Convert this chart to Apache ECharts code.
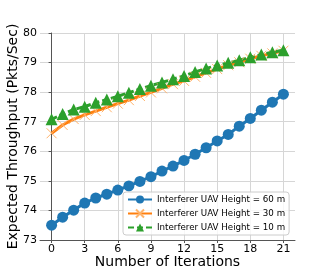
<!DOCTYPE html>
<html>
<head>
<meta charset="utf-8">
<script src="https://cdn.jsdelivr.net/npm/echarts@6/dist/echarts.min.js"></script>
<style>html,body{margin:0;padding:0;background:#fff}#c{width:327px;height:270px}</style>
</head>
<body>
<div id="c"></div>
<script>
const iterations = [0,1,2,3,4,5,6,7,8,9,10,11,12,13,14,15,16,17,18,19,20,21];
const h60 = [73.50,73.77,74.01,74.25,74.42,74.55,74.69,74.83,74.98,75.14,75.33,75.50,75.69,75.90,76.12,76.35,76.57,76.85,77.11,77.39,77.66,77.93];
const h30 = [76.61,76.89,77.09,77.23,77.36,77.49,77.61,77.73,77.87,77.99,78.13,78.27,78.38,78.52,78.65,78.78,78.91,79.01,79.13,79.23,79.31,79.40];
const h10 = [77.08,77.26,77.41,77.51,77.64,77.75,77.86,77.98,78.11,78.22,78.33,78.44,78.55,78.68,78.80,78.90,78.99,79.08,79.18,79.27,79.35,79.42];
const xTicks = [0,3,6,9,12,15,18,21];
const names = ['Interferer UAV Height = 60 m','Interferer UAV Height = 30 m','Interferer UAV Height = 10 m'];

const font = 'DejaVu Sans';
const pair = (ys) => iterations.map((x, i) => [x, ys[i]]);
const chart = echarts.init(document.getElementById('c'), null, {renderer: 'canvas'});
chart.setOption({
  animation: false,
  backgroundColor: '#fff',
  grid: {left: 40, top: 33, right: 32, bottom: 30, containLabel: false, outerBoundsMode: 'none'},
  xAxis: {
    type: 'value', min: -1.05, max: 22.05,
    name: 'Number of Iterations', nameLocation: 'middle', nameGap: 15, nameMoveOverlap: false,
    nameTextStyle: {fontFamily: font, fontSize: 14, color: '#000'},
    axisLine: {show: true, onZero: false, lineStyle: {color: '#555', width: 1}},
    axisTick: {show: true, length: 3, customValues: xTicks, lineStyle: {color: '#555'}},
    axisLabel: {customValues: xTicks, fontFamily: font, fontSize: 11, color: '#000', margin: 4},
    splitLine: {show: true, lineStyle: {color: '#d6d6d6', width: 1}}
  },
  yAxis: {
    type: 'value', min: 73, max: 80, interval: 1,
    name: 'Expected Throughput (Pkts/Sec)', nameLocation: 'middle', nameGap: 20, nameMoveOverlap: false,
    nameTextStyle: {fontFamily: font, fontSize: 14, color: '#000'},
    axisLine: {show: true, lineStyle: {color: '#555', width: 1}},
    axisTick: {show: true, length: 3, lineStyle: {color: '#555'}},
    axisLabel: {fontFamily: font, fontSize: 11, color: '#000', margin: 3},
    splitLine: {show: true, lineStyle: {color: '#d6d6d6', width: 1}}
  },
  legend: {
    orient: 'vertical', left: 123, top: 192,
    itemWidth: 24, itemHeight: 10, itemGap: 4.5,
    padding: [3, 4, 3, 4],
    borderColor: '#cccccc', borderWidth: 1, borderRadius: 3,
    backgroundColor: 'rgba(255,255,255,0.8)',
    textStyle: {fontFamily: font, fontSize: 8.7, color: '#000'},
    data: names
  },
  series: [
    {
      name: names[0], type: 'line', data: pair(h60),
      symbol: 'circle', symbolSize: 11,
      lineStyle: {color: '#1f77b4', width: 3},
      itemStyle: {color: '#1f77b4'}
    },
    {
      name: names[1], type: 'line', data: pair(h30),
      symbol: 'path://M0,0L10,10M10,0L0,10', symbolSize: 10,
      lineStyle: {color: '#ff7f0e', width: 3},
      itemStyle: {color: '#ff7f0e', borderColor: '#ffb36b', borderWidth: 1}
    },
    {
      name: names[2], type: 'line', data: pair(h10),
      symbol: 'triangle', symbolSize: 12,
      lineStyle: {color: '#2ca02c', width: 3, type: [6, 3]},
      itemStyle: {color: '#2ca02c'}
    }
  ]
});
</script>
</body>
</html>
